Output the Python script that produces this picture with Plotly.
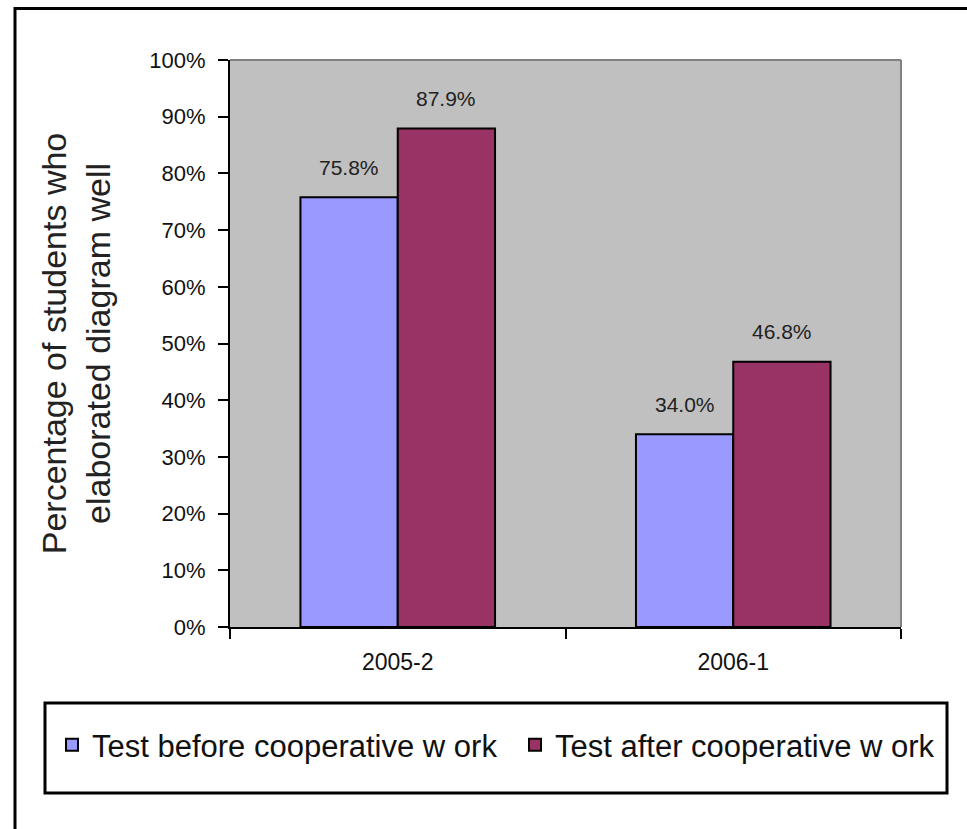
import plotly.graph_objects as go

# Data
terms = ["2005-2", "2006-1"]
before_pct = [75.8, 34.0]
after_pct = [87.9, 46.8]
series_names = ["Test before cooperative w ork", "Test after cooperative w ork"]
y_ticks = list(range(0, 101, 10))
y_tick_labels = [f"{t}%" for t in y_ticks]

W, H = 967, 829
ML, MR, MT, MB = 230, 66, 60, 202
PW, PH = W - ML - MR, H - MT - MB
BARGAP = 0.42
FONT = "Liberation Sans, Arial, sans-serif"


def px_x(px):
    return (px - ML) / PW


def px_y(py):
    return (H - MB - py) / PH


fig = go.Figure()
fig.add_bar(x=terms, y=before_pct, name=series_names[0], legend="legend",
            marker=dict(color="#9999FF", line=dict(color="black", width=2)))
fig.add_bar(x=terms, y=after_pct, name=series_names[1], legend="legend2",
            marker=dict(color="#993366", line=dict(color="black", width=2)))

# value labels above each bar
half = (1 - BARGAP) / 4
for i, (b, a) in enumerate(zip(before_pct, after_pct)):
    for off, v in ((-half, b), (half, a)):
        fig.add_annotation(x=i + off, y=v, xref="x", yref="y", text=f"{v:.1f}%",
                           showarrow=False, yshift=30,
                           font=dict(family=FONT, size=21, color="#222222"))

shapes = [
    # plot area border (top and right)
    dict(type="line", xref="paper", yref="paper", x0=0, x1=1, y0=1, y1=1,
         line=dict(color="#808080", width=2)),
    dict(type="line", xref="paper", yref="paper", x0=1, x1=1, y0=0, y1=1,
         line=dict(color="#808080", width=2)),
    # legend frame
    dict(type="rect", xref="paper", yref="paper",
         x0=px_x(45), x1=px_x(947), y0=px_y(793), y1=px_y(703),
         line=dict(color="black", width=3)),
    # chart frame
    dict(type="rect", xref="paper", yref="paper",
         x0=px_x(15), x1=px_x(1000), y0=px_y(900), y1=px_y(8.5),
         line=dict(color="black", width=3)),
]

legend_style = dict(orientation="h", xanchor="left", y=px_y(745), yanchor="middle",
                    font=dict(family=FONT, size=31, color="#111111"),
                    bgcolor="rgba(0,0,0,0)", borderwidth=0)

fig.update_layout(
    width=W, height=H,
    margin=dict(l=ML, r=MR, t=MT, b=MB, autoexpand=False),
    paper_bgcolor="white", plot_bgcolor="#C0C0C0",
    barmode="group", bargap=BARGAP, bargroupgap=0,
    font=dict(family=FONT, color="#111111"),
    shapes=shapes,
    showlegend=True,
    legend=dict(x=px_x(52), **legend_style),
    legend2=dict(x=px_x(515), **legend_style),
    xaxis=dict(type="category", showgrid=False, showline=True, linecolor="black", linewidth=2,
               ticks="outside", tickson="boundaries", ticklen=10, tickwidth=2,
               tickcolor="black", tickfont=dict(family=FONT, size=23, color="#111111"),
               ticklabelstandoff=13, zeroline=False),
    yaxis=dict(range=[0, 100], tickvals=y_ticks, ticktext=y_tick_labels,
               showgrid=False, showline=True, linecolor="black", linewidth=2,
               ticks="outside", ticklen=10, tickwidth=2, tickcolor="black",
               tickfont=dict(family=FONT, size=22, color="#111111"),
               ticklabelstandoff=8, zeroline=False,
               title=dict(text="Percentage of students who<br>elaborated diagram well",
                          font=dict(family=FONT, size=34, color="#222222"),
                          standoff=28)),
)

fig.write_html("out.html")
